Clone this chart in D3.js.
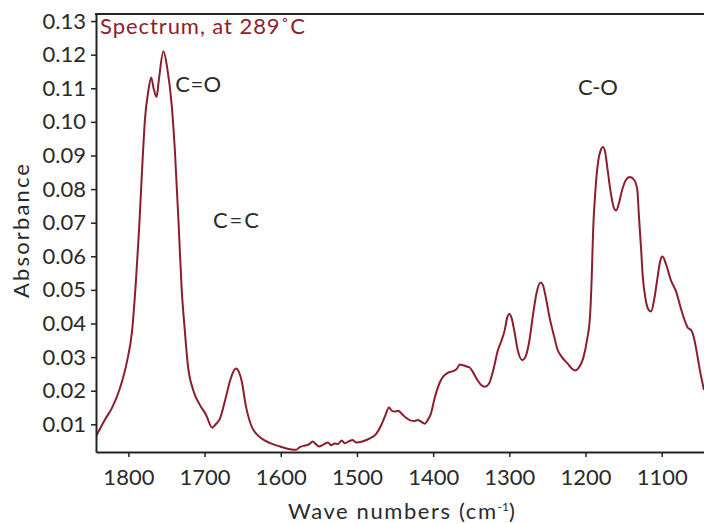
<!DOCTYPE html>
<meta charset="utf-8">
<head>
<style>

body {
  margin: 0;
  background: #fff;
}

svg {
  display: block;
}

.axis text {
  font: 22px Lato, sans-serif;
  fill: #2a2a2a;
}

.axis path,
.axis line {
  stroke: #222;
}

.label {
  font: 22px Lato, sans-serif;
  fill: #2a2a2a;
}

.title {
  font: 22px Lato, sans-serif;
  fill: #8b1e2e;
}

.spectrum {
  fill: none;
  stroke: #8b1e2e;
  stroke-width: 2px;
}

</style>
<script src="https://cdn.jsdelivr.net/npm/d3@7"></script>
</head>

<body>
<svg width="704" height="524"></svg>
<script>

// wave numbers (cm-1) from left to right
var waveNumbers = [
  1843, 1831, 1821, 1811, 1802, 1795, 1790, 1786, 1782, 1778,
  1774, 1770, 1767, 1763, 1760, 1754, 1749, 1743, 1739, 1734,
  1730, 1726, 1722, 1715, 1706, 1698, 1690, 1685, 1680, 1673,
  1667, 1661, 1658, 1655, 1651, 1646, 1639, 1634, 1627, 1614,
  1601, 1588, 1580, 1575, 1568, 1563, 1558, 1554, 1550, 1543,
  1538, 1534, 1529, 1525, 1520, 1516, 1510, 1506, 1501, 1493,
  1483, 1475, 1468, 1463, 1458, 1454, 1450, 1446, 1441, 1436,
  1429, 1424, 1420, 1416, 1411, 1407, 1403, 1398, 1391, 1386,
  1381, 1373, 1369, 1365, 1361, 1356, 1352, 1348, 1342, 1337,
  1332, 1327, 1321, 1315, 1310, 1306, 1303, 1300, 1297, 1293,
  1289, 1283, 1279, 1274, 1269, 1264, 1259, 1256, 1252, 1247,
  1241, 1237, 1231, 1224, 1218, 1214, 1209, 1203, 1198, 1194,
  1192, 1190, 1187, 1184, 1180, 1177, 1174, 1171, 1167, 1163,
  1160, 1156, 1152, 1147, 1142, 1136, 1132, 1130, 1127, 1125,
  1121, 1117, 1114, 1110, 1106, 1102, 1099, 1094, 1088, 1081,
  1075, 1069, 1066, 1061, 1058, 1054, 1050, 1044.5
];

var absorbance = [
  0.0062, 0.0113, 0.0151, 0.0208, 0.0285, 0.0381, 0.0530, 0.0678, 0.0859, 0.1014,
  0.1089, 0.1132, 0.1101, 0.1074, 0.1125, 0.1210, 0.1160, 0.1047, 0.0916, 0.0693,
  0.0500, 0.0381, 0.0277, 0.0202, 0.0157, 0.0128, 0.0090, 0.0101, 0.0116, 0.0172,
  0.0226, 0.0262, 0.0266, 0.0256, 0.0226, 0.0157, 0.0098, 0.0077, 0.0061, 0.0044,
  0.0034, 0.0026, 0.0024, 0.0032, 0.0037, 0.0040, 0.0049, 0.0041, 0.0034, 0.0041,
  0.0046, 0.0038, 0.0043, 0.0041, 0.0052, 0.0044, 0.0050, 0.0053, 0.0046, 0.0049,
  0.0058, 0.0071, 0.0098, 0.0125, 0.0150, 0.0140, 0.0138, 0.0140, 0.0131, 0.0120,
  0.0111, 0.0110, 0.0113, 0.0108, 0.0102, 0.0113, 0.0131, 0.0178, 0.0226, 0.0244,
  0.0253, 0.0259, 0.0265, 0.0278, 0.0276, 0.0272, 0.0269, 0.0256, 0.0232, 0.0217,
  0.0212, 0.0220, 0.0262, 0.0321, 0.0351, 0.0381, 0.0416, 0.0428, 0.0416, 0.0372,
  0.0321, 0.0291, 0.0300, 0.0345, 0.0425, 0.0494, 0.0522, 0.0515, 0.0476, 0.0416,
  0.0360, 0.0324, 0.0300, 0.0282, 0.0266, 0.0260, 0.0268, 0.0297, 0.0351, 0.0425,
  0.0529, 0.0678, 0.0797, 0.0872, 0.0916, 0.0925, 0.0907, 0.0857, 0.0791, 0.0746,
  0.0736, 0.0759, 0.0797, 0.0827, 0.0836, 0.0827, 0.0797, 0.0723, 0.0619, 0.0544,
  0.0470, 0.0440, 0.0436, 0.0470, 0.0529, 0.0585, 0.0599, 0.0574, 0.0529, 0.0494,
  0.0446, 0.0404, 0.0388, 0.0379, 0.0360, 0.0315, 0.0262, 0.0202
];

var xTicks = [1800, 1700, 1600, 1500, 1400, 1300, 1200, 1100];
var yTicks = [0.01, 0.02, 0.03, 0.04, 0.05, 0.06, 0.07, 0.08, 0.09, 0.10, 0.11, 0.12, 0.13];

// peak labels: name, wave number and absorbance where the text starts
var peakNames = ["C=O", "C=C", "C-O"];
var peakWave = [1738.5, 1689, 1210];
var peakAbs = [0.1089, 0.0684, 0.108];

var svg = d3.select("svg"),
    margin = {top: 14, right: 0, bottom: 72, left: 96},
    width = +svg.attr("width") - margin.left - margin.right,
    height = +svg.attr("height") - margin.top - margin.bottom;

var g = svg.append("g")
    .attr("transform", "translate(" + margin.left + "," + margin.top + ")");

var x = d3.scaleLinear()
    .domain([1842.5, 1044.5])
    .range([0, width]);

var y = d3.scaleLinear()
    .domain([0.00176, 0.1321])
    .range([height, 0]);

var data = waveNumbers.map(function(w, i) { return {w: w, a: absorbance[i]}; });

g.append("clipPath")
    .attr("id", "plotClip")
  .append("rect")
    .attr("width", width)
    .attr("height", height);

var line = d3.line()
    .curve(d3.curveMonotoneX)
    .x(function(d) { return x(d.w); })
    .y(function(d) { return y(d.a); });

g.append("path")
    .datum(data)
    .attr("class", "spectrum")
    .attr("clip-path", "url(#plotClip)")
    .attr("d", line);

// axes
g.append("g")
    .attr("class", "axis")
    .attr("transform", "translate(0," + height + ")")
    .call(d3.axisBottom(x)
      .tickValues(xTicks)
      .tickFormat(d3.format("d"))
      .tickSize(5)
      .tickSizeOuter(0)
      .tickPadding(12));

g.append("g")
    .attr("class", "axis")
    .call(d3.axisLeft(y)
      .tickValues(yTicks)
      .tickFormat(d3.format(".2f"))
      .tickSize(5)
      .tickSizeOuter(0)
      .tickPadding(5));

svg.selectAll(".axis .domain").attr("stroke-width", 2);
svg.selectAll(".axis .tick line").attr("stroke-width", 1.5);

// top frame line
g.append("line")
    .attr("x1", -1).attr("x2", width)
    .attr("y1", 0).attr("y2", 0)
    .attr("stroke", "#222")
    .attr("stroke-width", 2);

// the original font is wider, so stretch the longer texts a little
g.append("text")
    .attr("class", "title")
    .attr("x", 4)
    .attr("y", 20)
    .attr("textLength", 205)
    .attr("lengthAdjust", "spacing")
    .text("Spectrum, at 289\u02DAC");

g.selectAll(".peak")
    .data(peakNames)
    .enter().append("text")
      .attr("class", "label peak")
      .attr("x", function(d, i) { return x(peakWave[i]); })
      .attr("y", function(d, i) { return y(peakAbs[i]); })
      .attr("textLength", function(d) { return d == "C-O" ? 40 : 46; })
      .attr("lengthAdjust", "spacing")
      .text(function(d) { return d; });

// axis titles
svg.append("text")
    .attr("class", "label")
    .attr("transform", "translate(29,231) rotate(-90)")
    .attr("text-anchor", "middle")
    .attr("textLength", 134)
    .attr("lengthAdjust", "spacing")
    .text("Absorbance");

var xTitle = svg.append("text")
    .attr("class", "label")
    .attr("x", 288)
    .attr("y", 519);
xTitle.append("tspan")
    .attr("textLength", 208)
    .attr("lengthAdjust", "spacing")
    .text("Wave numbers (cm");
xTitle.append("tspan")
    .attr("dy", -8)
    .style("font-size", "12px")
    .text("-1");
xTitle.append("tspan")
    .attr("dy", 8)
    .text(")");

</script>
</body>
